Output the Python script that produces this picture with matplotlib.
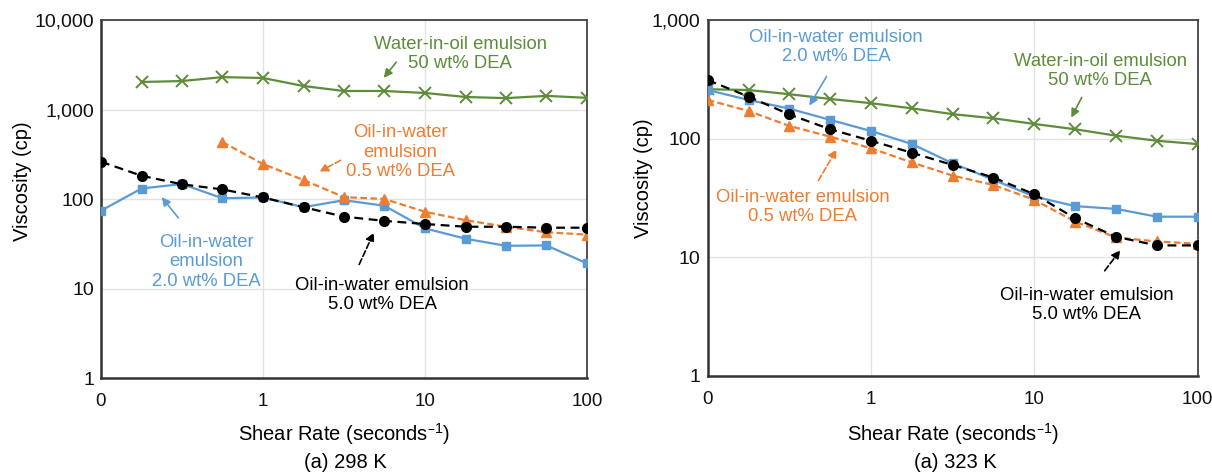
import matplotlib
matplotlib.use("Agg")
import matplotlib.pyplot as plt
from matplotlib.ticker import FixedLocator, FixedFormatter, NullLocator

plt.rcParams['font.family'] = ['Liberation Sans', 'DejaVu Sans']

# Shear rate points (s^-1); the axis label "0" marks 0.1
shear = [0.1, 0.178, 0.316, 0.562, 1.0, 1.78, 3.16, 5.62, 10.0, 17.8, 31.6, 56.2, 100.0]

# 298 K
w_o_298 = [None, 2030, 2080, 2300, 2250, 1830, 1610, 1610, 1530, 1380, 1340, 1420, 1350]
o5_298 = [None, None, None, 433, 246, 163, 105, 100, 72, 58, 49, 42.5, 40]
o20_298 = [74, 131, 147, 102, 104, 81, 97, 84, 47, 36, 30, 30.3, 19.1]
o50_298 = [261, 182, 146, 128, 104, 81, 63.5, 57, 52.6, 49, 49, 47.8, 47.8]

# 323 K
w_o_323 = [261, 257, 237, 216, 199, 180, 161, 148.5, 133, 120, 106, 96, 90]
o5_323 = [212, 171, 128, 104, 83, 63, 48.8, 40.7, 30.5, 20, 14.7, 13.6, 13]
o20_323 = [257, 212, 179, 144, 116, 90, 62, 45, 32.5, 27, 25.6, 22, 22]
o50_323 = [312, 226, 160, 120, 96, 76, 60, 47, 34, 21.3, 14.9, 12.6, 12.6]

xticks = [0.1, 1, 10, 100]
xtick_labels = ["0", "1", "10", "100"]

GREEN = "#5E8C3A"
BLUE = "#5B9BD5"
ORANGE = "#ED7D31"
BLACK = "#000000"
FS = 13.3


def pairs(xs, ys):
    px, py = [], []
    for a, b in zip(xs, ys):
        if b is not None:
            px.append(a)
            py.append(b)
    return px, py


def setup(ax, ymax, yticks, ylabels, ylab_xy, xlab_y):
    ax.set_xscale('log')
    ax.set_yscale('log')
    ax.set_xlim(0.1, 100)
    ax.set_ylim(1, ymax)
    ax.xaxis.set_major_locator(FixedLocator(xticks))
    ax.xaxis.set_major_formatter(FixedFormatter(xtick_labels))
    ax.xaxis.set_minor_locator(NullLocator())
    ax.yaxis.set_major_locator(FixedLocator(yticks))
    ax.yaxis.set_major_formatter(FixedFormatter(ylabels))
    ax.yaxis.set_minor_locator(NullLocator())
    ax.grid(True, which='major', color='#E3E3E3', linewidth=1.0)
    ax.set_axisbelow(True)
    ax.tick_params(axis='y', length=0, labelsize=14, pad=5, colors='#111111')
    ax.tick_params(axis='x', length=0, labelsize=13.5, pad=11, colors='#111111')
    for s in ['left', 'bottom']:
        ax.spines[s].set_linewidth(1.8)
        ax.spines[s].set_color('#333333')
    for s in ['top', 'right']:
        ax.spines[s].set_linewidth(1.3)
        ax.spines[s].set_color('#444444')
    ax.set_ylabel("Viscosity (cp)", fontsize=14.5)
    ax.set_xlabel("Shear Rate (seconds$^{\u2013\\mathregular{1}}$)", fontsize=14.5)
    ax.yaxis.set_label_coords(*ylab_xy)
    ax.xaxis.set_label_coords(0.5, xlab_y)


def draw(ax, wo, o5, o20, o50):
    x, y = pairs(shear, wo)
    ax.plot(x, y, color=GREEN, lw=1.6, marker='x', ms=8, mew=1.4, zorder=3)
    x, y = pairs(shear, o20)
    ax.plot(x, y, color=BLUE, lw=1.6, marker='s', ms=6, zorder=4)
    x, y = pairs(shear, o5)
    ax.plot(x, y, color=ORANGE, lw=1.6, ls=(0, (3, 1.5)), marker='^', ms=6.5, zorder=5)
    x, y = pairs(shear, o50)
    ax.plot(x, y, color=BLACK, lw=1.6, ls=(0, (4, 2.5)), marker='o', ms=7, zorder=6)


def note(fig, text, color, xy_text, arrow_from, arrow_to, dashed=False):
    W, H = 1212, 474
    fig.text(xy_text[0] / W, 1 - xy_text[1] / H, text, color=color, fontsize=FS,
             ha='center', va='center', linespacing=1.2)
    fig.add_artist(matplotlib.patches.FancyArrowPatch(
        (arrow_from[0] / W, 1 - arrow_from[1] / H), (arrow_to[0] / W, 1 - arrow_to[1] / H),
        transform=fig.transFigure, arrowstyle='-|>,head_length=5,head_width=2.5',
        color=color, lw=1.2, linestyle='--' if dashed else '-', mutation_scale=1))


fig = plt.figure(figsize=(12.12, 4.74), dpi=100)
ax1 = fig.add_axes([0.0833, 0.2025, 0.401, 0.7553])
ax2 = fig.add_axes([0.5839, 0.2068, 0.4043, 0.751])

setup(ax1, 10000, [1, 10, 100, 1000, 10000], ["1", "10", "100", "1,000", "10,000"], (-0.142, 0.55), -0.12)
setup(ax2, 1000, [1, 10, 100, 1000], ["1", "10", "100", "1,000"], (-0.112, 0.556), -0.126)
draw(ax1, w_o_298, o5_298, o20_298, o50_298)
draw(ax2, w_o_323, o5_323, o20_323, o50_323)

fig.text(345 / 1212, 1 - 463 / 474, "(a) 298 K", fontsize=14.5, ha='center', va='center')
fig.text(955 / 1212, 1 - 463 / 474, "(a) 323 K", fontsize=14.5, ha='center', va='center')

# Left panel annotations
note(fig, "Water-in-oil emulsion\n50 wt% DEA", GREEN, (460, 54), (398, 60), (382, 80))
note(fig, "Oil-in-water\nemulsion\n0.5 wt% DEA", ORANGE, (400, 152), (343, 159), (317, 173), dashed=True)
note(fig, "Oil-in-water\nemulsion\n2.0 wt% DEA", BLUE, (206, 262), (180, 220), (160, 195))
note(fig, "Oil-in-water emulsion\n5.0 wt% DEA", BLACK, (382, 295), (358, 267), (375, 230), dashed=True)

# Right panel annotations
note(fig, "Oil-in-water emulsion\n2.0 wt% DEA", BLUE, (836, 47), (828, 74), (808, 108))
note(fig, "Oil-in-water emulsion\n0.5 wt% DEA", ORANGE, (803, 207), (817, 183), (838, 147), dashed=True)
note(fig, "Water-in-oil emulsion\n50 wt% DEA", GREEN, (1100, 71), (1083, 95), (1070, 120))
note(fig, "Oil-in-water emulsion\n5.0 wt% DEA", BLACK, (1087, 305), (1103, 273), (1122, 248), dashed=True)

fig.savefig("out.png", dpi=100)
